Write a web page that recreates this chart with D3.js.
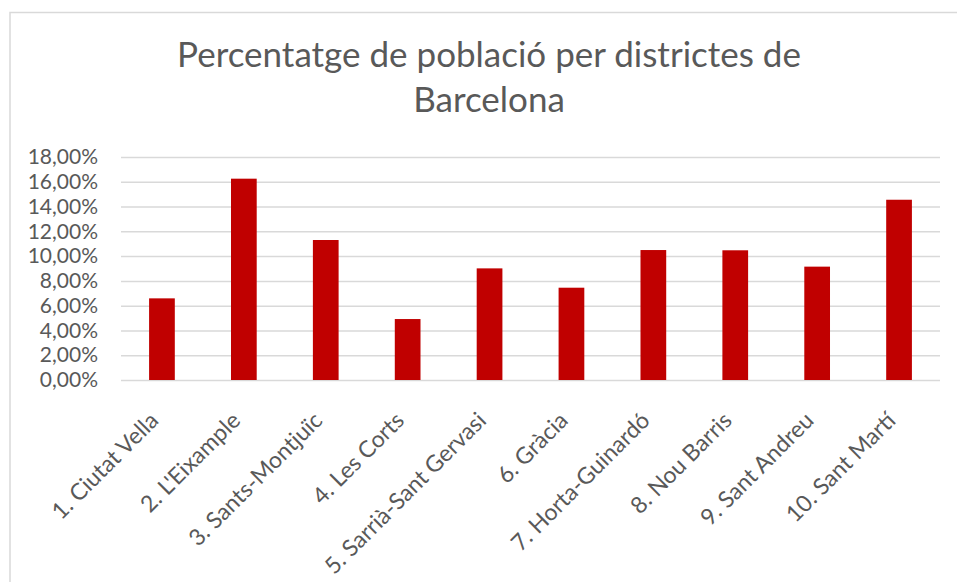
<!DOCTYPE html>
<html>
<head>
<meta charset="utf-8">
<script src="https://cdn.jsdelivr.net/npm/d3@7"></script>
<style>
  body { margin: 0; background: #fff; }
  text { font-family: Lato, "Open Sans", sans-serif; fill: #595959; }
</style>
</head>
<body>
<div class="chart"></div>
<script>
// Districts and share of population
var districts = ["1. Ciutat Vella", "2. L'Eixample", "3. Sants-Montjuïc", "4. Les Corts",
  "5. Sarrià-Sant Gervasi", "6. Gràcia", "7. Horta-Guinardó", "8. Nou Barris",
  "9. Sant Andreu", "10. Sant Martí"];
var shares = [0.0659, 0.1625, 0.1130, 0.0492, 0.0901, 0.0745, 0.1049, 0.1047, 0.0915, 0.1455];
var yTicks = [0, 0.02, 0.04, 0.06, 0.08, 0.10, 0.12, 0.14, 0.16, 0.18];
var titleLines = ["Percentatge de població per districtes de", "Barcelona"];

var width = 957, height = 582;
var margin = {left: 121, right: 17, top: 157, bottom: 202};

var svg = d3.select(".chart").append("svg")
  .attr("width", width)
  .attr("height", height);

// chart frame (only the top and left edges fall inside the picture)
svg.append("rect")
  .attr("x", 10).attr("y", 12.5)
  .attr("width", 1000).attr("height", 1000)
  .attr("fill", "none")
  .attr("stroke", "#d9d9d9")
  .attr("stroke-width", 1.5);

var x = d3.scaleBand()
  .domain(districts)
  .range([margin.left, width - margin.right])
  .paddingInner(0.686)
  .paddingOuter(0.343);

var y = d3.scaleLinear()
  .domain([0, 0.18])
  .range([height - margin.bottom, margin.top]);

var fmt = function(d) { return d3.format(".2f")(d * 100).replace(".", ",") + "%"; };

// gridlines + y labels
var yAxis = d3.axisLeft(y)
  .tickValues(yTicks)
  .tickSize(-(width - margin.right - margin.left))
  .tickPadding(23)
  .tickFormat(fmt);

var gy = svg.append("g")
  .attr("transform", "translate(" + margin.left + ",0)")
  .call(yAxis);
gy.select(".domain").remove();
gy.selectAll(".tick line").attr("stroke", "#d9d9d9").attr("stroke-width", 1.5);
gy.selectAll(".tick text")
  .style("font-size", "21px")
  .attr("fill", "#595959");

// bars
svg.selectAll("rect.bar").data(shares).enter()
  .append("rect")
  .attr("class", "bar")
  .attr("x", function(d, i) { return x(districts[i]); })
  .attr("y", function(d) { return y(d); })
  .attr("width", x.bandwidth())
  .attr("height", function(d) { return y(0) - y(d); })
  .attr("fill", "#c00000");

// x labels
var xAxis = d3.axisBottom(x).tickSize(0).tickPadding(0);
var gx = svg.append("g")
  .attr("transform", "translate(0," + y(0) + ")")
  .call(xAxis);
gx.select(".domain").remove();
gx.selectAll(".tick text")
  .style("font-size", "23px")
  .attr("fill", "#595959")
  .attr("text-anchor", "end")
  .attr("dy", null)
  .attr("transform", "translate(-2,42) rotate(-45)");

// title
svg.append("g").selectAll("text").data(titleLines).enter()
  .append("text")
  .attr("x", 489)
  .attr("y", function(d, i) { return 67 + i * 45; })
  .attr("text-anchor", "middle")
  .style("font-size", "35px")
  .text(function(d) { return d; });
</script>
</body>
</html>
